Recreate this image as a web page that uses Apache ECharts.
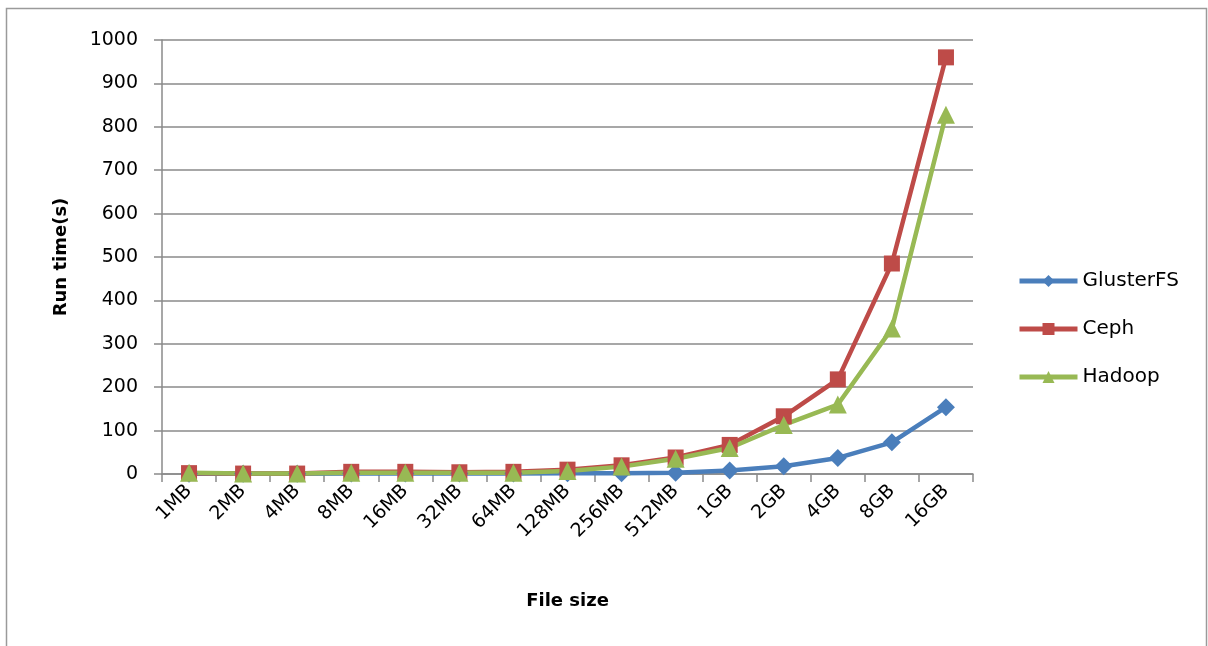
<!DOCTYPE html>
<html>
<head>
<meta charset="utf-8">
<script src="https://cdn.jsdelivr.net/npm/echarts@6/dist/echarts.min.js"></script>
<style>
html,body{margin:0;padding:0;background:#fff;}
#chart{width:1208px;height:646px;}
</style>
</head>
<body>
<div id="chart"></div>
<script>
const categories = ['1MB','2MB','4MB','8MB','16MB','32MB','64MB','128MB','256MB','512MB','1GB','2GB','4GB','8GB','16GB'];
const glusterfs = [0.5, 0.5, 0.5, 1, 1, 1, 1, 2, 2, 3, 8, 18, 37, 73, 154];
const ceph = [2, 1, 1, 5, 5, 4, 5, 10, 20, 38, 67, 133, 218, 485, 960];
const hadoop = [3, 1, 1, 3, 3, 3, 3, 7, 17, 35, 60, 113, 160, 335, 828];
const yTicks = [0, 100, 200, 300, 400, 500, 600, 700, 800, 900, 1000];

const FONT = 'DejaVu Sans';
const chart = echarts.init(document.getElementById('chart'));
const lineW = 4.5;
function mk(name, data, color, symbol, size) {
  return {
    name: name, type: 'line', data: data,
    symbol: symbol, symbolSize: size,
    lineStyle: {color: color, width: lineW},
    itemStyle: {color: color},
    emphasis: {disabled: true},
    animation: false
  };
}
chart.setOption({
  animation: false,
  textStyle: {fontFamily: FONT},
  graphic: [{
    type: 'rect', shape: {x: 6.5, y: 8.5, width: 1200, height: 660},
    style: {fill: 'none', stroke: '#9a9a9a', lineWidth: 1.5}, silent: true, z: -10
  }],
  grid: {left: 162, right: 235, top: 40, bottom: 172, containLabel: false},
  legend: {
    orient: 'vertical', left: 1012, top: 266, itemGap: 28,
    itemWidth: 58, itemHeight: 15,
    lineStyle: {width: 5},
    textStyle: {fontFamily: FONT, fontSize: 20, color: '#000'},
    data: ['GlusterFS', 'Ceph', 'Hadoop']
  },
  xAxis: {
    type: 'category', data: categories, boundaryGap: true,
    name: 'File size', nameLocation: 'middle', nameGap: 118,
    nameTextStyle: {fontFamily: FONT, fontSize: 18, fontWeight: 'bold', color: '#000'},
    axisLine: {lineStyle: {color: '#8a8a8a', width: 1.5}},
    axisTick: {show: true, alignWithLabel: false, length: 8, lineStyle: {color: '#8a8a8a', width: 1.5}},
    axisLabel: {rotate: 45, margin: 14, fontFamily: FONT, fontSize: 19, color: '#000', interval: 0}
  },
  yAxis: {
    type: 'value', min: 0, max: 1000, interval: 100,
    name: 'Run time(s)', nameLocation: 'middle', nameGap: 92, nameRotate: 90,
    nameTextStyle: {fontFamily: FONT, fontSize: 18, fontWeight: 'bold', color: '#000'},
    axisLine: {show: true, lineStyle: {color: '#8a8a8a', width: 1.5}},
    axisTick: {show: true, length: 8, lineStyle: {color: '#8a8a8a', width: 1.5}},
    axisLabel: {margin: 24, fontFamily: FONT, fontSize: 19, color: '#000',
      formatter: function(v){ return yTicks.indexOf(v) >= 0 ? String(v) : ''; }},
    splitLine: {show: true, lineStyle: {color: '#8a8a8a', width: 1.5}}
  },
  series: [
    mk('GlusterFS', glusterfs, '#4a7ebb', 'diamond', 18),
    mk('Ceph', ceph, '#be4b48', 'rect', 16),
    mk('Hadoop', hadoop, '#98b954', 'triangle', 18)
  ]
});
</script>
</body>
</html>
